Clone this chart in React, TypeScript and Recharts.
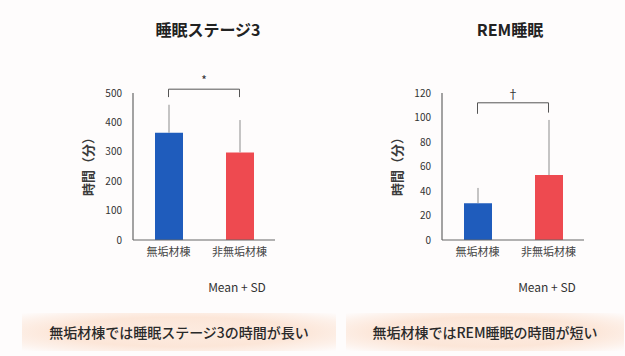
import React from 'react';
import { BarChart, Bar, XAxis, YAxis, ErrorBar, Cell, ReferenceLine } from 'recharts';

// Groups and per-group values (minutes, mean and SD)
const groups = ['無垢材棟', '非無垢材棟'];
const barColors = ['#1f5cbc', '#ee4a50'];

const stage3Mean = [365, 298];
const stage3Sd = [95, 110];
const stage3Ticks = [0, 100, 200, 300, 400, 500];

const remMean = [30, 53];
const remSd = [12.5, 45];
const remTicks = [0, 20, 40, 60, 80, 100, 120];

// Significance brackets: [top level, left drop, right drop]
const stage3Bracket = [513, 486, 486];
const remBracket = [112, 103, 104];

const FONT = "'Noto Sans CJK JP', 'Noto Sans', sans-serif";

const buildRows = (mean: number[], sd: number[]) =>
  groups.map((g, i) => ({ group: g, mean: mean[i], err: [0, sd[i]] }));

const YLabel = (props: any) => {
  const vb = props.viewBox || {};
  const x = vb.x - 6;
  const y = vb.y + vb.height / 2 - 3;
  return (
    <text
      x={x}
      y={y}
      transform={`rotate(-90, ${x}, ${y})`}
      textAnchor="middle"
      dominantBaseline="central"
      fontSize={13}
      fontWeight={700}
      fontFamily={FONT}
      fill="#3a3a3a"
    >
      時間（分）
    </text>
  );
};

type PanelProps = {
  left: number;
  mean: number[];
  sd: number[];
  ticks: number[];
  bracket: number[];
  mark: string;
};

const Panel = ({ left, mean, sd, ticks, bracket, mark }: PanelProps) => {
  const rows = buildRows(mean, sd);
  const max = ticks[ticks.length - 1];
  return (
    <div style={{ position: 'absolute', left, top: 0 }}>
      <BarChart
        width={300}
        height={300}
        data={rows}
        margin={{ top: 93, right: 25, bottom: 30, left: 93 }}
      >
        <XAxis
          dataKey="group"
          height={30}
          tickLine={false}
          tickSize={0}
          tickMargin={8}
          axisLine={{ stroke: '#666', strokeWidth: 1.2 }}
          tick={{ fontSize: 11, fill: '#444', fontFamily: FONT }}
          interval={0}
        />
        <YAxis
          width={40}
          domain={[0, max]}
          ticks={ticks}
          tickLine={false}
          tickSize={0}
          tickMargin={11}
          axisLine={{ stroke: '#666', strokeWidth: 1.2 }}
          tick={{ fontSize: 10, fill: '#333', fontFamily: FONT }}
          label={<YLabel />}
        />
        <Bar dataKey="mean" barSize={28} isAnimationActive={false}>
          {rows.map((r, i) => (
            <Cell key={r.group} fill={barColors[i]} />
          ))}
          <ErrorBar dataKey="err" direction="y" width={0} stroke="#8c8c8c" strokeWidth={1} />
        </Bar>
        <ReferenceLine
          ifOverflow="visible"
          stroke="#555"
          strokeWidth={1}
          segment={[
            { x: groups[0], y: bracket[0] },
            { x: groups[1], y: bracket[0] },
          ]}
          label={{ value: mark, position: 'top', offset: 4, fontSize: 12, fill: '#333', fontFamily: FONT }}
        />
        <ReferenceLine
          ifOverflow="visible"
          stroke="#555"
          strokeWidth={1}
          segment={[
            { x: groups[0], y: bracket[0] },
            { x: groups[0], y: bracket[1] },
          ]}
        />
        <ReferenceLine
          ifOverflow="visible"
          stroke="#555"
          strokeWidth={1}
          segment={[
            { x: groups[1], y: bracket[0] },
            { x: groups[1], y: bracket[2] },
          ]}
        />
      </BarChart>
    </div>
  );
};

const titleStyle: React.CSSProperties = {
  position: 'absolute',
  top: 19,
  width: 200,
  textAlign: 'center',
  fontFamily: FONT,
  fontWeight: 700,
  fontSize: 16,
  lineHeight: '20px',
  color: '#222',
};

const noteStyle: React.CSSProperties = {
  position: 'absolute',
  top: 279,
  width: 120,
  textAlign: 'center',
  fontFamily: FONT,
  fontSize: 12,
  lineHeight: '16px',
  color: '#333',
};

const boxStyle: React.CSSProperties = {
  position: 'absolute',
  top: 313,
  height: 38,
  display: 'flex',
  alignItems: 'center',
  justifyContent: 'center',
  fontFamily: FONT,
  fontSize: 14,
  fontWeight: 500,
  color: '#2a2a2a',
  background:
    'radial-gradient(ellipse at center, #fdebe0 0%, #fce6d8 55%, #fdf1ea 80%, rgba(255,255,255,0) 100%)',
  whiteSpace: 'nowrap',
};

export default function App() {
  return (
    <div
      style={{
        position: 'absolute',
        left: 0,
        top: 0,
        width: 625,
        height: 356,
        background: '#fefcfc',
        overflow: 'hidden',
      }}
    >
      <div style={{ ...titleStyle, left: 108 }}>睡眠ステージ3</div>
      <div style={{ ...titleStyle, left: 410 }}>REM睡眠</div>

      <Panel left={0} mean={stage3Mean} sd={stage3Sd} ticks={stage3Ticks} bracket={stage3Bracket} mark="*" />
      <Panel left={309} mean={remMean} sd={remSd} ticks={remTicks} bracket={remBracket} mark="†" />

      <div style={{ ...noteStyle, left: 177 }}>Mean + SD</div>
      <div style={{ ...noteStyle, left: 487 }}>Mean + SD</div>

      <div style={{ ...boxStyle, left: 22, width: 314 }}>無垢材棟では睡眠ステージ3の時間が長い</div>
      <div style={{ ...boxStyle, left: 346, width: 278 }}>無垢材棟ではREM睡眠の時間が短い</div>
    </div>
  );
}
